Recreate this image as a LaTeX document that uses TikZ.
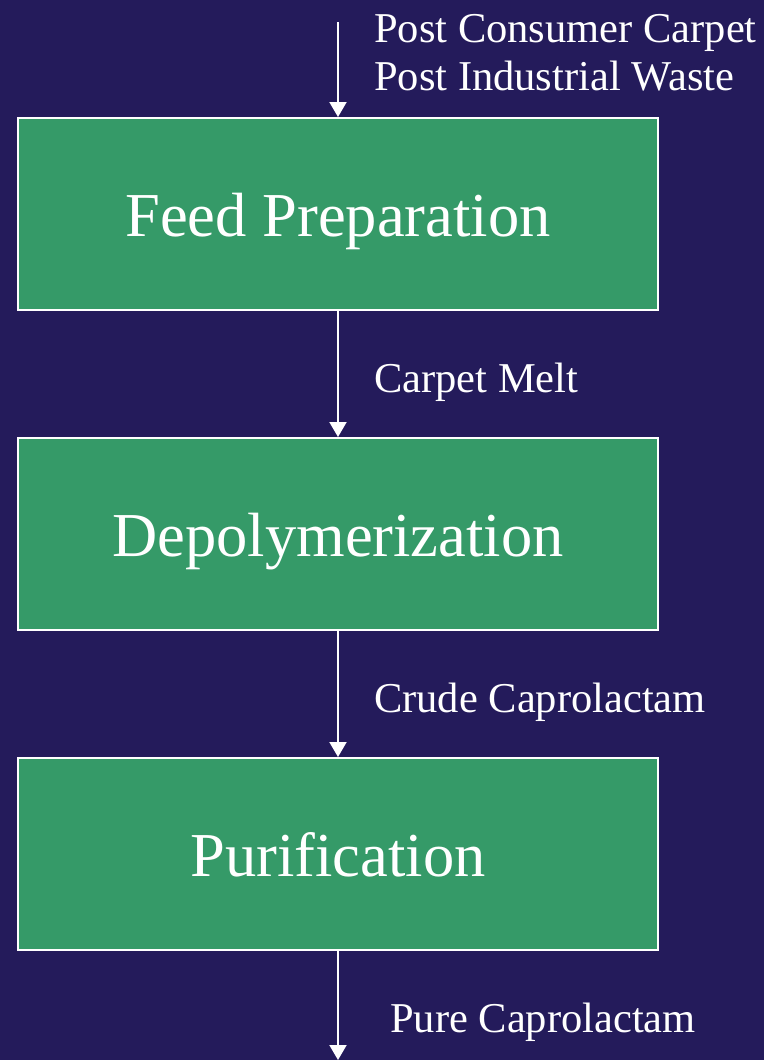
\documentclass[tikz,border=0pt]{standalone}
\usepackage{fontspec}
\setmainfont{Liberation Serif}
\usepackage{tikz}
\usetikzlibrary{arrows.meta}
\definecolor{bg}{HTML}{241B5B}
\definecolor{stage}{HTML}{359A68}
\definecolor{text}{HTML}{FFFFFF}
\tikzset{
  stagebox/.style={draw=text, fill=stage, line width=2pt, minimum width=640pt,
    minimum height=192pt, inner sep=0pt, text height=44pt, text depth=0pt,
    text=text, font=\fontsize{62.5}{70}\selectfont},
  flow/.style={draw=text, line width=2pt, -{Triangle[length=15pt,width=17pt]}},
  lab/.style={text=text, anchor=base west, inner sep=0pt, font=\fontsize{42.5}{48}\selectfont},
}
\begin{document}
\begin{tikzpicture}[x=1pt, y=-1pt]
  \fill[bg] (0,0) rectangle (764,1060);
  \useasboundingbox (0,0) rectangle (764,1060);
  % stages
  \node[stagebox] (feed)  at (338,214) {Feed Preparation};
  \node[stagebox] (depol) at (338,534) {Depolymerization};
  \node[stagebox] (purif) at (338,854) {Purification};
  \coordinate (in)  at (338,22);
  \coordinate (out) at (338,1060);
  % streams
  \draw[flow] (in) -- (feed);
  \draw[flow] (feed) -- (depol);
  \draw[flow] (depol) -- (purif);
  \draw[flow] (purif) -- (out);
  \node[lab] (pcc) at (374,42)  {Post Consumer Carpet};
  \node[lab] (piw) at (374,90)  {Post Industrial Waste};
  \node[lab] (cm)  at (374,392) {Carpet Melt};
  \node[lab] (cc)  at (374,712) {Crude Caprolactam};
  \node[lab] (pc)  at (390,1032) {Pure Caprolactam};
\end{tikzpicture}
\end{document}
